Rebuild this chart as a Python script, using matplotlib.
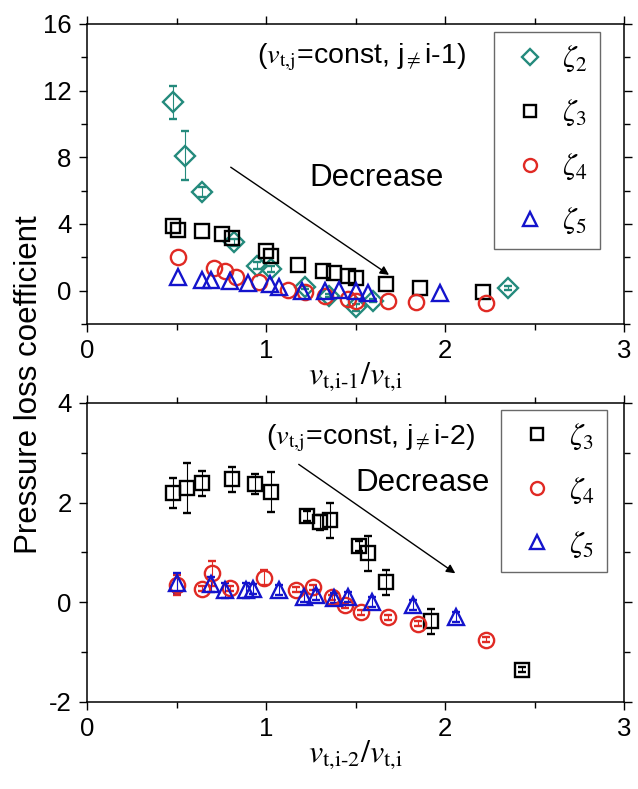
import matplotlib
matplotlib.use("Agg")
import matplotlib.pyplot as plt
from matplotlib.ticker import MultipleLocator
from matplotlib.lines import Line2D

plt.rcParams['font.family'] = ['Liberation Sans', 'DejaVu Sans']
plt.rcParams['mathtext.fontset'] = 'stix'
plt.rcParams['axes.unicode_minus'] = False

# ---- top panel data (v_t,i-1 / v_t,i) ----
top_z2_x = [0.48, 0.545, 0.645, 0.82, 0.95, 1.03, 1.22, 1.35, 1.5, 1.6, 2.35]
top_z2_y = [11.3, 8.1, 5.9, 2.9, 1.5, 1.3, 0.2, -0.3, -1.0, -0.6, 0.15]
top_z2_err = [1.0, 1.45, 0.3, 0.2, 0.2, 0.2, 0.1, 0.1, 0.2, 0.1, 0.1]

top_z3_x = [0.48, 0.51, 0.64, 0.755, 0.81, 1.0, 1.03, 1.18, 1.32, 1.38, 1.46, 1.5, 1.67, 1.86, 2.21]
top_z3_y = [3.85, 3.65, 3.55, 3.4, 3.15, 2.35, 2.05, 1.55, 1.2, 1.05, 0.85, 0.75, 0.4, 0.15, -0.1]

top_z4_x = [0.51, 0.71, 0.77, 0.83, 0.96, 1.12, 1.22, 1.33, 1.46, 1.5, 1.68, 1.84, 2.23]
top_z4_y = [2.0, 1.35, 1.15, 0.8, 0.5, 0.05, -0.1, -0.35, -0.5, -0.65, -0.65, -0.7, -0.75]

top_z5_x = [0.51, 0.64, 0.69, 0.8, 0.9, 1.02, 1.07, 1.2, 1.33, 1.41, 1.5, 1.57, 1.97]
top_z5_y = [0.8, 0.65, 0.65, 0.6, 0.45, 0.38, 0.22, -0.05, 0.0, 0.05, -0.05, -0.15, -0.15]

# ---- bottom panel data (v_t,i-2 / v_t,i) ----
bot_z3_x = [0.48, 0.56, 0.64, 0.81, 0.94, 1.03, 1.23, 1.3, 1.36, 1.52, 1.57, 1.67, 1.92, 2.43]
bot_z3_y = [2.19, 2.29, 2.39, 2.47, 2.37, 2.21, 1.73, 1.61, 1.65, 1.13, 0.98, 0.4, -0.38, -1.35]
bot_z3_err = [0.3, 0.5, 0.25, 0.25, 0.2, 0.4, 0.1, 0.15, 0.35, 0.1, 0.35, 0.25, 0.25, 0.05]

bot_z4_x = [0.5, 0.64, 0.7, 0.8, 0.99, 1.17, 1.26, 1.37, 1.44, 1.53, 1.68, 1.85, 2.23]
bot_z4_y = [0.34, 0.27, 0.58, 0.28, 0.49, 0.25, 0.3, 0.1, -0.06, -0.2, -0.3, -0.43, -0.75]
bot_z4_err = [0.2, 0.05, 0.25, 0.05, 0.15, 0.05, 0.05, 0.05, 0.05, 0.05, 0.05, 0.05, 0.05]

bot_z5_x = [0.5, 0.69, 0.77, 0.89, 0.93, 1.07, 1.21, 1.28, 1.38, 1.46, 1.59, 1.82, 2.06]
bot_z5_y = [0.38, 0.36, 0.24, 0.24, 0.26, 0.24, 0.1, 0.14, 0.08, 0.1, 0.0, -0.06, -0.3]
bot_z5_err = [0.2, 0.15, 0.15, 0.15, 0.1, 0.1, 0.1, 0.1, 0.1, 0.1, 0.1, 0.1, 0.1]

# arrows (start, end)
top_arrow = [(0.79, 7.5), (1.70, 0.85)]
bot_arrow = [(1.17, 2.8), (2.07, 0.55)]

teal = '#248a7c'
red = '#e02a24'
blue = '#1414cc'

fig = plt.figure(figsize=(6.38, 7.89), dpi=100)
ax1 = fig.add_axes([0.1364, 0.5894, 0.8417, 0.3802])
ax2 = fig.add_axes([0.1364, 0.1103, 0.8417, 0.3790])


def series(ax, x, y, marker, color, ms, err=None):
    ax.errorbar(x, y, yerr=err, fmt=marker, ms=ms, mfc='none', mec=color, mew=1.7,
                ecolor=color, elinewidth=0.8, capsize=3, capthick=0.8)
    # marker-only handle for the legend
    return Line2D([], [], ls='none', marker=marker, ms=ms * 0.85, mfc='none',
                  mec=color, mew=1.7)


h2 = series(ax1, top_z2_x, top_z2_y, 'D', teal, 10, top_z2_err)
h3 = series(ax1, top_z3_x, top_z3_y, 's', 'k', 10)
h4 = series(ax1, top_z4_x, top_z4_y, 'o', red, 11)
h5 = series(ax1, top_z5_x, top_z5_y, '^', blue, 12)

series(ax2, bot_z3_x, bot_z3_y, 's', 'k', 10, bot_z3_err)
series(ax2, bot_z4_x, bot_z4_y, 'o', red, 11, bot_z4_err)
series(ax2, bot_z5_x, bot_z5_y, '^', blue, 12, bot_z5_err)

for ax in (ax1, ax2):
    ax.set_xlim(0, 3)
    ax.xaxis.set_major_locator(MultipleLocator(1))
    ax.xaxis.set_minor_locator(MultipleLocator(0.5))
    ax.tick_params(which='both', direction='out', top=True, right=True,
                   labelsize=18.5, width=1.0, pad=5)
    ax.tick_params(which='major', length=6)
    ax.tick_params(which='minor', length=4)
    for s in ax.spines.values():
        s.set_linewidth(1.1)

ax1.set_ylim(-2, 16)
ax1.yaxis.set_major_locator(MultipleLocator(4))
ax1.yaxis.set_minor_locator(MultipleLocator(2))
ax2.set_ylim(-2, 4)
ax2.yaxis.set_major_locator(MultipleLocator(2))
ax2.yaxis.set_minor_locator(MultipleLocator(1))

ax1.set_xlabel(r'$v_{\mathrm{t{,}i\text{-}1}}/v_{\mathrm{t{,}i}}$', fontsize=23, labelpad=-2)
ax2.set_xlabel(r'$v_{\mathrm{t{,}i\text{-}2}}/v_{\mathrm{t{,}i}}$', fontsize=23, labelpad=-2)
fig.text(0.045, 0.512, 'Pressure loss coefficient', rotation=90, fontsize=22.5,
         ha='center', va='center')

ax1.text(0.95, 14.0, r'($v_{\mathrm{t{,}j}}$=const, j$_{\neq}$i-1)', fontsize=20.5, va='center')
ax1.text(1.24, 6.75, 'Decrease', fontsize=22.5, va='center')
ax2.text(1.0, 3.3, r'($v_{\mathrm{t{,}j}}$=const, j$_{\neq}$i-2)', fontsize=20.5, va='center')
ax2.text(1.5, 2.39, 'Decrease', fontsize=22.5, va='center')

arrow_style = dict(arrowstyle='-|>', color='k', lw=1.0, mutation_scale=13)
ax1.annotate('', xy=top_arrow[1], xytext=top_arrow[0], arrowprops=arrow_style)
ax2.annotate('', xy=bot_arrow[1], xytext=bot_arrow[0], arrowprops=arrow_style)

leg_kw = dict(loc='upper right', fontsize=22, frameon=True, fancybox=False,
              borderaxespad=0, handlelength=1.5, handletextpad=0.3,
              labelspacing=0.78, borderpad=0.4)
l1 = ax1.legend([h2, h3, h4, h5], [r'$\zeta_2$', r'$\zeta_3$', r'$\zeta_4$', r'$\zeta_5$'],
                bbox_to_anchor=(0.955, 0.973), **leg_kw)
l2 = ax2.legend([h3, h4, h5], [r'$\zeta_3$', r'$\zeta_4$', r'$\zeta_5$'],
                bbox_to_anchor=(0.968, 0.977), **leg_kw)
for leg in (l1, l2):
    leg.get_frame().set_edgecolor('#444444')
    leg.get_frame().set_linewidth(1.0)

fig.savefig('out.png', dpi=100)
